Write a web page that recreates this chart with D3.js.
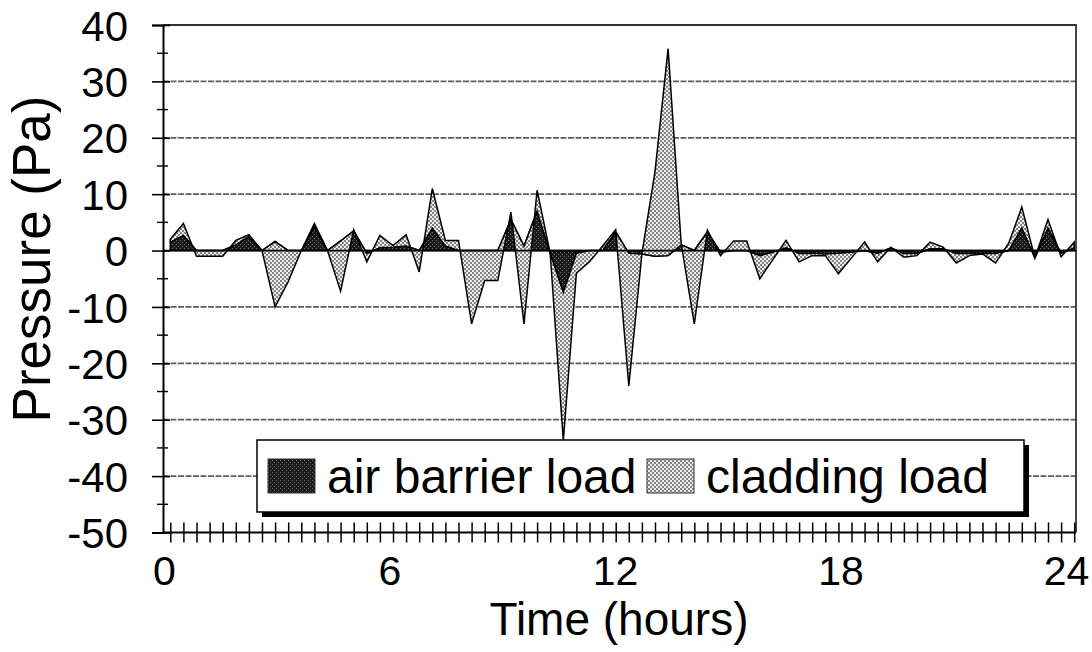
<!DOCTYPE html>
<html><head><meta charset="utf-8">
<script src="https://cdn.jsdelivr.net/npm/d3@7"></script>
<style>body{margin:0;background:#fff}svg{display:block}text{font-family:"Liberation Sans",Arial,sans-serif;fill:#000}</style>
</head><body><svg id="c" width="1092" height="652"></svg>
<script>
// Data: samples across the 24 h record (Pa)
const airBarrier = [1.5,2.7,0,0,0,1,2.5,0,1.6,0,0,4.2,0,1.7,3.5,-0.5,0.5,0.6,0.8,0,4,0.8,0,0,0,0,5.5,0.8,7,-0.5,-7.4,-0.5,0,0,3.3,-0.5,-0.6,-1,-0.9,1,0,3.3,-0.3,0,0,-0.9,-0.3,0.5,-0.5,-0.5,-0.6,-0.5,-0.3,0,-0.5,0.5,-0.5,-0.5,0.3,0.3,-0.5,-0.5,-0.5,-0.5,0,4,-1.3,4,-0.5,0.5];
const cladding = [0.5,2.1,-1,-1,-1,0.8,0.3,0,-11.6,-5.5,0,0.6,0,-8.9,0.2,-1.5,2.2,0.3,2,-3.8,7,1,1.8,-13,-5.3,-5.3,1.3,-13.8,3.7,0,-26.3,-3.5,-2,0.8,0.4,-23.5,0,15,36.7,0.2,-13,0.3,-0.6,1.7,1.7,-4.1,-1.3,1.3,-1.5,-0.4,-0.3,-3.6,-1,1.5,-1.5,0.1,-0.7,-0.4,1.2,0.3,-1.7,-0.4,-0.1,-1.7,1.3,3.7,0,1.5,-0.6,1];
const hourTicks = [0,6,12,18,24];
const pressureTicks = [-50,-40,-30,-20,-10,0,10,20,30,40];
const seriesNames = ["air barrier load","cladding load"];
const xTitle = "Time (hours)";
const yTitle = "Pressure (Pa)";

const L=163,R=1076,T=25,B=532.5;
const svg=d3.select("#c");
svg.append("rect").attr("width",1092).attr("height",652).attr("fill","#fff");
const defs=svg.append("defs");
const pd=defs.append("pattern").attr("id","pDark").attr("patternUnits","userSpaceOnUse").attr("width",4).attr("height",4);
pd.append("rect").attr("width",4).attr("height",4).attr("fill","#1c1c1c");
pd.append("rect").attr("x",0).attr("y",0).attr("width",1).attr("height",1).attr("fill","#6a6a6a");
pd.append("rect").attr("x",2).attr("y",2).attr("width",1).attr("height",1).attr("fill","#6a6a6a");
const pl=defs.append("pattern").attr("id","pLight").attr("patternUnits","userSpaceOnUse").attr("width",4).attr("height",4);
pl.append("rect").attr("width",4).attr("height",4).attr("fill","#ececec");
pl.append("rect").attr("x",0).attr("y",0).attr("width",2).attr("height",2).attr("fill","#858585");
pl.append("rect").attr("x",2).attr("y",2).attr("width",2).attr("height",2).attr("fill","#858585");

const y=d3.scaleLinear().domain([-50,40]).range([B,T]);
const n=airBarrier.length;
const x=d3.scaleLinear().domain([0,n-1]).range([170.3,1074.2]);
const xh=d3.scaleLinear().domain([0,24]).range([164,1066]);

// gridlines
svg.append("g").selectAll("line").data(pressureTicks.filter(v=>v!==0&&v!==-50&&v!==40)).join("line")
  .attr("x1",L).attr("x2",R).attr("y1",d=>y(d)).attr("y2",d=>y(d))
  .attr("stroke","#5e5e5e").attr("stroke-width",1.8).attr("stroke-dasharray","6,1.5");
// frame top/right
svg.append("path").attr("d",`M${L},${y(40)}H${R}V${B}`).attr("fill","none").attr("stroke","#333").attr("stroke-width",1.8);

const data=airBarrier.map((a,i)=>({i,a,c:cladding[i]}));
const areaA=d3.area().x(d=>x(d.i)).y0(y(0)).y1(d=>y(d.a));
const areaC=d3.area().x(d=>x(d.i)).y0(d=>y(d.a)).y1(d=>y(d.a+d.c));
svg.append("path").datum(data).attr("d",areaA).attr("fill","url(#pDark)").attr("stroke","#000").attr("stroke-width",1.5).attr("stroke-linejoin","miter");
svg.append("path").datum(data).attr("d",areaC).attr("fill","url(#pLight)").attr("stroke","#000").attr("stroke-width",1.5).attr("stroke-linejoin","miter");
// zero line
svg.append("line").attr("x1",L).attr("x2",R).attr("y1",y(0)).attr("y2",y(0)).attr("stroke","#000").attr("stroke-width",1.8);

// y axis
const yAx=svg.append("g").attr("transform",`translate(${L},0)`)
  .call(d3.axisLeft(y).tickValues(pressureTicks).tickSize(11).tickFormat(d=>String(d)));
yAx.select(".domain").attr("stroke","#000").attr("stroke-width",2);
yAx.selectAll(".tick line").attr("x2",-11).attr("x1",7).attr("stroke","#000").attr("stroke-width",1.6);
yAx.selectAll(".tick text").attr("font-size",42).attr("font-family","Liberation Sans, Arial, sans-serif").attr("dy","0.36em").attr("x",-35);
const minorY=d3.range(-45,40,10);
svg.append("g").selectAll("line").data(minorY).join("line")
  .attr("x1",L-6).attr("x2",L+5).attr("y1",d=>y(d)).attr("y2",d=>y(d)).attr("stroke","#000").attr("stroke-width",1.4);

// x axis
svg.append("line").attr("x1",L).attr("x2",R).attr("y1",B).attr("y2",B).attr("stroke","#000").attr("stroke-width",2);
const xAx=svg.append("g").attr("transform",`translate(0,${B})`)
  .call(d3.axisBottom(x).tickValues(d3.range(n)).tickSize(10).tickFormat(""));
xAx.select(".domain").remove();
xAx.selectAll(".tick line").attr("y1",-10).attr("y2",10).attr("stroke","#000").attr("stroke-width",1.5);
const xLab=svg.append("g").attr("transform",`translate(0,${B})`)
  .call(d3.axisBottom(xh).tickValues(hourTicks).tickSize(0).tickPadding(0).tickFormat(d=>String(d)));
xLab.select(".domain").remove();
xLab.selectAll(".tick text").attr("font-size",41).attr("font-family","Liberation Sans, Arial, sans-serif").attr("y",52).attr("dy",0);

// titles
svg.append("text").attr("x",619).attr("y",635).attr("text-anchor","middle").attr("font-size",46).text(xTitle);
svg.append("text").attr("transform","translate(50,259) rotate(-90)").attr("text-anchor","middle").attr("font-size",53).text(yTitle);

// legend
const lg=svg.append("g");
lg.append("rect").attr("x",262).attr("y",445).attr("width",767).attr("height",72).attr("fill","#000");
lg.append("rect").attr("x",257).attr("y",440).attr("width",767).attr("height",72).attr("fill","#fff").attr("stroke","#000").attr("stroke-width",1.5);
const items=[{fill:"url(#pDark)",sx:268,tx:327,name:seriesNames[0]},{fill:"url(#pLight)",sx:647,tx:706,name:seriesNames[1]}];
items.forEach(it=>{
  lg.append("rect").attr("x",it.sx).attr("y",459).attr("width",47).attr("height",34).attr("fill",it.fill).attr("stroke","#333").attr("stroke-width",1);
  lg.append("text").attr("x",it.tx).attr("y",493).attr("font-size",48).text(it.name);
});
</script></body></html>
